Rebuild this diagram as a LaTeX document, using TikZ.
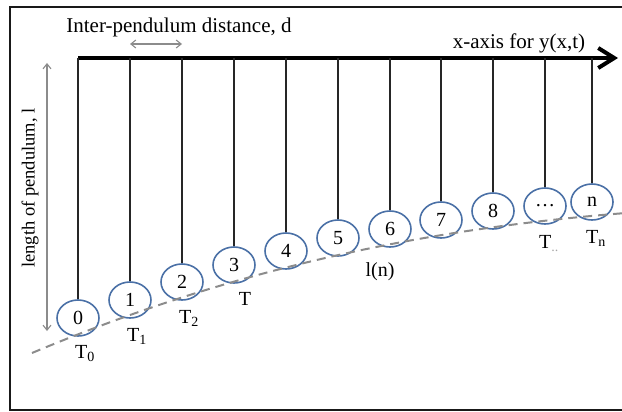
\documentclass[tikz,border=0pt]{standalone}
\usepackage{fontspec}
\setmainfont{Liberation Serif}
\usetikzlibrary{arrows.meta,shapes.geometric}
\definecolor{bobblue}{HTML}{4A70A6}
\definecolor{guide}{HTML}{8C8C8C}
\begin{document}
\begin{tikzpicture}[x=1pt,y=-1pt,
  bob/.style={ellipse,draw=bobblue,line width=1.6pt,minimum width=42pt,minimum height=36pt,inner sep=0pt,font=\fontsize{20}{20}\selectfont},
  txt/.style={font=\fontsize{21}{24}\selectfont,inner sep=0pt},
  lbl/.style={font=\fontsize{20}{24}\selectfont,inner sep=0pt},
  strg/.style={draw=black!85,line width=1.8pt},
  guidearrow/.style={draw=guide,line width=1.1pt,{Straight Barb[length=5pt,width=8pt]}-{Straight Barb[length=5pt,width=8pt]}},
  frame/.style={draw=black!90,line width=2.4pt},
]
\useasboundingbox (0,0) rectangle (622,412);
\clip (0,0) rectangle (622,412);
% frame
\draw[frame] (10,7) rectangle (640,410);
% axis
\coordinate (axs) at (78,58);
\coordinate (axe) at (618,58);
\draw[line width=3.2pt,-{Straight Barb[length=16pt,width=20pt,line width=4pt]}] (axs) -- (axe);
\node[txt,anchor=base] (xlab) at (519,49) {x-axis for y(x,t)};
% bobs
\node[bob] (b0) at (78,318) {0};
\node[bob] (b1) at (130,300) {1};
\node[bob] (b2) at (182,282) {2};
\node[bob] (b3) at (234,265) {3};
\node[bob] (b4) at (286,251) {4};
\node[bob] (b5) at (338,238) {5};
\node[bob] (b6) at (390,229) {6};
\node[bob] (b7) at (441,220) {7};
\node[bob] (b8) at (493,211) {8};
\node[bob] (b9) at (545,206) {\ldots};
\node[bob] (b10) at (592,202) {n};
% strings
\foreach \i in {0,...,10}{
  \draw[strg] (b\i.north |- axs) -- (b\i.north);
}
% dashed curve
\coordinate (cs) at (32,353);
\coordinate (ce) at (626,213);
\draw[guide,line width=2pt,dash pattern=on 9pt off 6pt] (cs) .. controls (232,269) and (422,229) .. (ce);
% labels
\node[lbl,anchor=base] (t0) at (85,358) {T\textsubscript{0}};
\node[lbl,anchor=base] (t1) at (137,341) {T\textsubscript{1}};
\node[lbl,anchor=base] (t2) at (189,323) {T\textsubscript{2}};
\node[lbl,anchor=base] (t3) at (245,305) {T};
\node[lbl,anchor=base] (ln) at (380,276) {l(n)};
\node[lbl,anchor=base] (t9) at (549,248) {T\textsubscript{\textcolor{black!35}{..}}};
\node[lbl,anchor=base] (tn) at (596,243) {T\textsubscript{n}};
% inter-pendulum distance
\node[txt,anchor=base] (dlab) at (179,33) {Inter-pendulum distance, d};
\coordinate (d1) at (130,44);
\coordinate (d2) at (182,44);
\draw[guidearrow] (d1) -- (d2);
% length of pendulum
\coordinate (l1) at (47,63);
\coordinate (l2) at (47,331);
\draw[guidearrow] (l1) -- (l2);
\node[inner sep=0pt,font=\fontsize{18.5}{22}\selectfont,rotate=90] (llab) at (30,188) {length of pendulum, l};
\end{tikzpicture}
\end{document}
